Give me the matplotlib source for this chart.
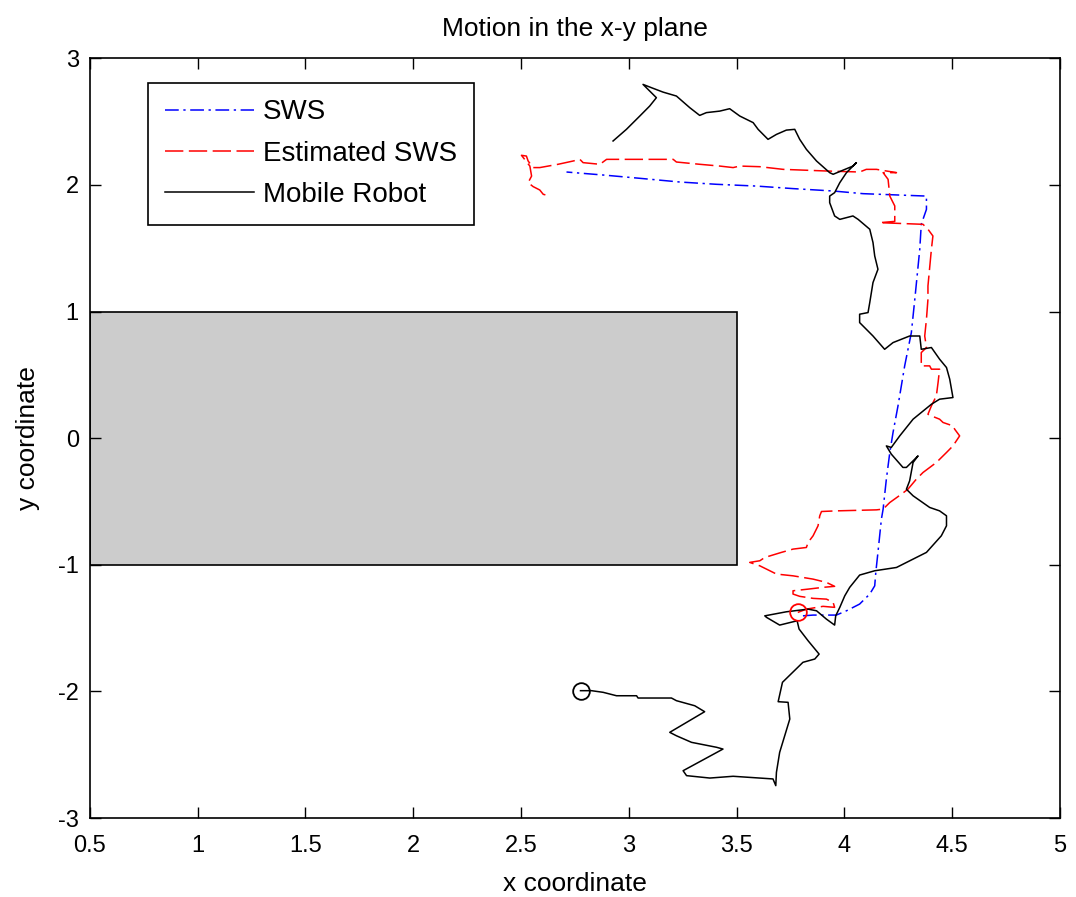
import matplotlib.pyplot as plt
from matplotlib.patches import Rectangle

plt.rcParams['font.family'] = ['Liberation Sans', 'DejaVu Sans']
plt.rcParams['axes.unicode_minus'] = False

# trajetoria do robo movel (preto)
robo_x = [2.776, 2.827, 2.881, 2.943, 3.036, 3.043, 3.198, 3.221, 3.306, 3.352,
          3.190, 3.221, 3.291, 3.407, 3.437, 3.252, 3.268, 3.376, 3.484, 3.669,
          3.682, 3.685, 3.700, 3.747, 3.739, 3.693, 3.713, 3.808, 3.863, 3.883,
          3.832, 3.790, 3.781, 3.700, 3.639, 3.631, 3.731, 3.832, 3.871, 3.917,
          3.955, 3.960, 3.979, 4.002, 4.025, 4.071, 4.141, 4.242, 4.319, 4.381,
          4.450, 4.474, 4.474, 4.442, 4.396, 4.319, 4.288, 4.303, 4.319, 4.342,
          4.288, 4.272, 4.218, 4.195, 4.218, 4.257, 4.319, 4.404, 4.442, 4.504,
          4.489, 4.474, 4.442, 4.404, 4.357, 4.350, 4.303, 4.226, 4.187, 4.133,
          4.071, 4.071, 4.110, 4.118, 4.133, 4.156, 4.141, 4.133, 4.118, 4.064,
          4.040, 3.979, 3.955, 3.932, 3.932, 3.955, 3.979, 4.010, 4.056, 4.040,
          3.948, 3.932, 3.871, 3.824, 3.793, 3.770, 3.731, 3.685, 3.646, 3.600,
          3.577, 3.515, 3.468, 3.422, 3.360, 3.329, 3.283, 3.221, 3.159, 3.105,
          3.066, 3.128, 3.097, 3.051, 2.989, 2.927]
robo_y = [-1.994, -1.994, -2.007, -2.034, -2.034, -2.052, -2.052, -2.073, -2.113, -2.160,
          -2.323, -2.350, -2.402, -2.441, -2.455, -2.626, -2.665, -2.684, -2.670, -2.691,
          -2.744, -2.639, -2.481, -2.218, -2.086, -2.081, -1.928, -1.770, -1.744, -1.705,
          -1.600, -1.507, -1.442, -1.476, -1.415, -1.403, -1.371, -1.350, -1.363, -1.429,
          -1.476, -1.403, -1.336, -1.245, -1.178, -1.081, -1.047, -1.021, -0.955, -0.902,
          -0.771, -0.692, -0.613, -0.574, -0.547, -0.455, -0.403, -0.337, -0.192, -0.140,
          -0.231, -0.231, -0.126, -0.061, -0.073, 0.018, 0.150, 0.268, 0.308, 0.321,
          0.466, 0.558, 0.624, 0.716, 0.702, 0.807, 0.807, 0.755, 0.702, 0.807,
          0.913, 0.979, 0.992, 1.071, 1.229, 1.334, 1.439, 1.545, 1.650, 1.728,
          1.755, 1.728, 1.755, 1.860, 1.912, 1.939, 2.018, 2.097, 2.176, 2.149,
          2.084, 2.097, 2.189, 2.281, 2.360, 2.439, 2.433, 2.399, 2.360, 2.439,
          2.492, 2.544, 2.602, 2.583, 2.571, 2.549, 2.610, 2.702, 2.733, 2.768,
          2.794, 2.689, 2.623, 2.544, 2.439, 2.347]

# SWS (azul)
sws_x = [3.808, 3.855, 3.963, 4.010, 4.071, 4.118, 4.141, 4.146, 4.156, 4.172,
         4.180, 4.195, 4.211, 4.226, 4.249, 4.280, 4.311, 4.327, 4.350, 4.357,
         4.381, 4.381, 4.087, 3.948, 3.762, 3.592, 3.407, 3.237, 3.066, 2.897, 2.711]
sws_y = [-1.403, -1.397, -1.397, -1.363, -1.310, -1.231, -1.166, -1.060, -0.902, -0.639,
         -0.560, -0.324, -0.113, 0.045, 0.255, 0.571, 0.834, 1.097, 1.492, 1.689,
         1.807, 1.912, 1.931, 1.952, 1.971, 1.991, 2.005, 2.023, 2.050, 2.076, 2.102]

# SWS estimado (vermelho)
est_x = [3.784, 3.824, 3.901, 3.955, 3.948, 3.917, 3.855, 3.793, 3.762, 3.762,
         3.832, 3.901, 3.955, 3.917, 3.855, 3.762, 3.685, 3.639, 3.608, 3.561,
         3.608, 3.631, 3.708, 3.762, 3.824, 3.832, 3.855, 3.878, 3.886, 3.894,
         3.963, 4.149, 4.180, 4.211, 4.265, 4.295, 4.334, 4.365, 4.427, 4.474,
         4.504, 4.535, 4.512, 4.504, 4.458, 4.442, 4.404, 4.388, 4.404, 4.427,
         4.435, 4.442, 4.404, 4.396, 4.357, 4.357, 4.381, 4.373, 4.381, 4.388,
         4.388, 4.404, 4.411, 4.388, 4.365, 4.164, 4.234, 4.234, 4.211, 4.203,
         4.180, 4.242, 4.149, 4.102, 4.071, 3.917, 3.716, 3.608, 3.515, 3.484,
         3.422, 3.329, 3.221, 3.206, 3.097, 2.897, 2.866, 2.788, 2.773, 2.742,
         2.672, 2.587, 2.556, 2.533, 2.525, 2.502, 2.541, 2.549, 2.533, 2.556,
         2.587, 2.603, 2.634]
est_y = [-1.376, -1.350, -1.328, -1.336, -1.297, -1.271, -1.265, -1.249, -1.231, -1.205,
         -1.192, -1.178, -1.170, -1.139, -1.113, -1.087, -1.073, -1.034, -1.008, -0.981,
         -0.968, -0.942, -0.902, -0.876, -0.863, -0.823, -0.771, -0.692, -0.613, -0.579,
         -0.574, -0.566, -0.560, -0.508, -0.442, -0.403, -0.324, -0.271, -0.192, -0.113,
         -0.061, 0.018, 0.071, 0.097, 0.124, 0.150, 0.176, 0.189, 0.255, 0.334,
         0.440, 0.545, 0.545, 0.571, 0.571, 0.676, 0.716, 0.807, 0.939, 1.097,
         1.202, 1.492, 1.597, 1.650, 1.689, 1.702, 1.712, 1.834, 1.912, 2.044,
         2.097, 2.097, 2.123, 2.123, 2.102, 2.110, 2.123, 2.144, 2.149, 2.137,
         2.149, 2.163, 2.181, 2.202, 2.202, 2.202, 2.163, 2.176, 2.202, 2.189,
         2.163, 2.137, 2.137, 2.189, 2.228, 2.234, 2.149, 2.070, 2.018, 1.987,
         1.960, 1.926, 1.912]

# obstaculo
obst_x, obst_y, obst_w, obst_h = 0.5, -1, 3, 2

fig = plt.figure(figsize=(10.76, 8.97), dpi=100)
ax = fig.add_axes([0.0836, 0.088, 0.9014, 0.847])

ax.add_patch(Rectangle((obst_x, obst_y), obst_w, obst_h, facecolor='#cccccc',
                       edgecolor='black', linewidth=1.2, zorder=1))

ax.plot(sws_x, sws_y, color='blue', linewidth=1.1, dashes=(9, 3, 1.5, 3),
        label='SWS', zorder=3)
ax.plot(est_x, est_y, color='red', linewidth=1.1, dashes=(12, 3.6),
        label='Estimated SWS', zorder=3)
ax.plot(robo_x, robo_y, color='black', linestyle='-', linewidth=1.1,
        label='Mobile Robot', zorder=3)

ax.plot(robo_x[0], robo_y[0], 'o', markersize=12, markerfacecolor='none',
        markeredgecolor='black', markeredgewidth=1.3, zorder=4)
ax.plot(est_x[0], est_y[0], 'o', markersize=12, markerfacecolor='none',
        markeredgecolor='red', markeredgewidth=1.3, zorder=4)

ax.set_xlim(0.5, 5)
ax.set_ylim(-3, 3)
ax.set_xticks([0.5, 1, 1.5, 2, 2.5, 3, 3.5, 4, 4.5, 5])
ax.set_xticklabels(['0.5', '1', '1.5', '2', '2.5', '3', '3.5', '4', '4.5', '5'])
ax.set_yticks([-3, -2, -1, 0, 1, 2, 3])
ax.tick_params(direction='in', top=True, right=True, length=8, width=1,
               labelsize=17)
ax.tick_params(axis='x', pad=12)
ax.tick_params(axis='y', pad=8)
for s in ax.spines.values():
    s.set_linewidth(1.2)

ax.set_xlabel('x coordinate', fontsize=19, labelpad=11)
ax.set_ylabel('y coordinate', fontsize=19, labelpad=13)
ax.set_title('Motion in the x-y plane', fontsize=19, pad=16)

leg = ax.legend(loc='upper left', bbox_to_anchor=(0.0598, 0.968), fontsize=20,
                fancybox=False, framealpha=1, edgecolor='black',
                handlelength=3.2, handletextpad=0.35, borderpad=0.6,
                labelspacing=0.55, borderaxespad=0)
leg.get_frame().set_linewidth(1.2)

plt.savefig('out.png')
